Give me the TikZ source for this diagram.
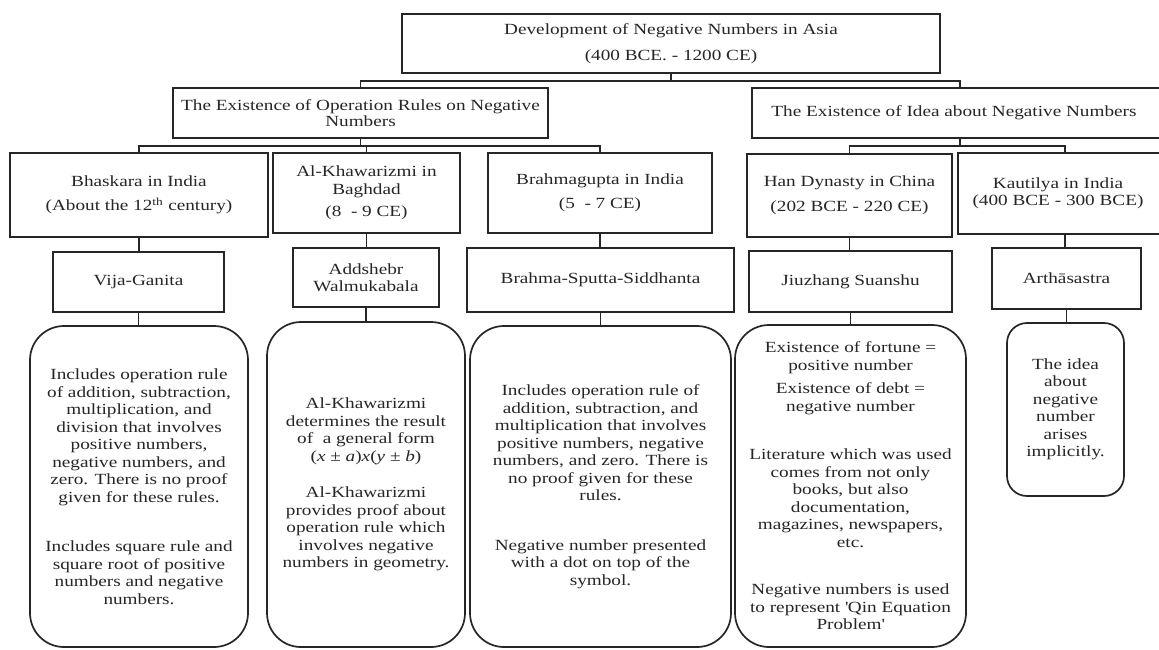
\documentclass[tikz,border=0pt]{standalone}
\usepackage{fontspec}
\setmainfont[FakeStretch=1.24]{Liberation Serif}
\newcommand\myfs{\fontsize{15.5}{17.5}\selectfont}
\begin{document}
\begin{tikzpicture}[x=1pt,y=-1pt,
  box/.style={draw=black!85, line width=1.7pt, rectangle, inner sep=0pt, align=center, text=black!85, font=\myfs},
  rbox/.style={box, rounded corners=34pt},
  sbox/.style={box, rounded corners=20pt},
  link/.style={draw=black!85, line width=1.7pt}]
\fill[white] (0,0) rectangle (1159,649);
\useasboundingbox (0,0) rectangle (1159,649);

% level 0
\node[box, minimum width=538pt, minimum height=59pt] (top) at (671,43.5)
  {Development of Negative Numbers in Asia\\[8pt](400 BCE. - 1200 CE)};
% level 1
\node[box, minimum width=375pt, minimum height=50pt] (op) at (360.5,113)
  {The Existence of Operation Rules on Negative\\[-1pt]Numbers};
\node[box, minimum width=416pt, minimum height=50pt] (idea) at (960,113)
  {\hspace*{-6pt}The Existence of Idea about Negative Numbers\hspace*{6pt}};
% level 2
\node[box, minimum width=258pt, minimum height=84pt] (bha) at (139,195)
  {Bhaskara in India\\[7pt](About the 12\textsuperscript{th} century)};
\node[box, minimum width=187pt, minimum height=80pt] (alk) at (366.5,193)
  {Al-Khawarizmi in\\Baghdad\\[5pt](8\ \ - 9 CE)};
\node[box, minimum width=224pt, minimum height=80pt] (bra) at (600,193)
  {Brahmagupta in India\\[7pt](5\ \ - 7 CE)};
\node[box, minimum width=205pt, minimum height=83pt] (han) at (849.5,195.5)
  {Han Dynasty in China\\[7pt](202 BCE - 220 CE)};
\node[box, minimum width=214pt, minimum height=81pt] (kau) at (1065,193.5)
  {\hspace*{-14pt}Kautilya in India\\\hspace*{-14pt}(400 BCE - 300 BCE)};
% level 3
\node[box, minimum width=171pt, minimum height=60pt] (vij) at (138.5,282) {Vija-Ganita};
\node[box, minimum width=146pt, minimum height=59pt] (add) at (366,277.5) {Addshebr\\Walmukabala};
\node[box, minimum width=267pt, minimum height=64pt] (bss) at (600.5,280) {Brahma-Sputta-Siddhanta};
\node[box, minimum width=203pt, minimum height=61pt] (jiu) at (850.5,281.5) {Jiuzhang Suanshu};
\node[box, minimum width=149pt, minimum height=61pt] (art) at (1066.5,278.5) {Arthāsastra};
% level 4
\node[rbox, minimum width=218pt, minimum height=321pt] (r1) at (139,486.5)
  {Includes operation rule\\of addition, subtraction,\\multiplication, and\\division that involves\\positive numbers,\\negative numbers, and\\zero. There is no proof\\given for these rules.\\[32pt]Includes square rule and\\square root of positive\\numbers and negative\\numbers.};
\node[rbox, minimum width=198pt, minimum height=325pt] (r2) at (366,484.5)
  {Al-Khawarizmi\\determines the result\\of\ \ a general form\\(\textit{x} ± \textit{a})\textit{x}(\textit{y} ± \textit{b})\\[19pt]Al-Khawarizmi\\provides proof about\\operation rule which\\involves negative\\numbers in geometry.};
\node[rbox, minimum width=261pt, minimum height=321pt] (r3) at (600.5,486.5)
  {Includes operation rule of\\addition, subtraction, and\\multiplication that involves\\positive numbers, negative\\numbers, and zero. There is\\no proof given for these\\rules.\\[32pt]Negative number presented\\with a dot on top of the\\symbol.};
\node[rbox, minimum width=231pt, minimum height=322pt] (r4) at (850.5,486)
  {Existence of fortune =\\positive number\\[6pt]Existence of debt =\\negative number\\[31pt]Literature which was used\\comes from not only\\books, but also\\documentation,\\magazines, newspapers,\\etc.\\[30pt]Negative numbers is used\\to represent \textquotesingle Qin Equation\\Problem\textquotesingle};
\node[sbox, minimum width=117pt, minimum height=173pt] (r5) at (1065.5,409.5)
  {The idea\\about\\negative\\number\\arises\\implicitly.};

% connectors
\draw[link] (top.south) -- ++(0,7) coordinate (tb) -| (op.north);
\draw[link] (tb) -| (idea.north);
\draw[link] (op.south) -- ++(0,7) coordinate (ob) -| (bha.north);
\draw[link] (ob) -| (alk.north);
\draw[link] (ob) -| (bra.north);
\draw[link] (idea.south) -- ++(0,7) coordinate (ib) -| (han.north);
\draw[link] (ib) -| (kau.north);
\draw[link] (bha.south) -- (bha.south |- vij.north);
\draw[link] (alk.south) -- (alk.south |- add.north);
\draw[link] (bra.south) -- (bra.south |- bss.north);
\draw[link] (han.south) -- (han.south |- jiu.north);
\draw[link] (kau.south) -- (kau.south |- art.north);
\draw[link] (vij.south) -- (vij.south |- r1.north);
\draw[link] (add.south) -- (add.south |- r2.north);
\draw[link] (bss.south) -- (bss.south |- r3.north);
\draw[link] (jiu.south) -- (jiu.south |- r4.north);
\draw[link] (art.south) -- (art.south |- r5.north);
\end{tikzpicture}
\end{document}
